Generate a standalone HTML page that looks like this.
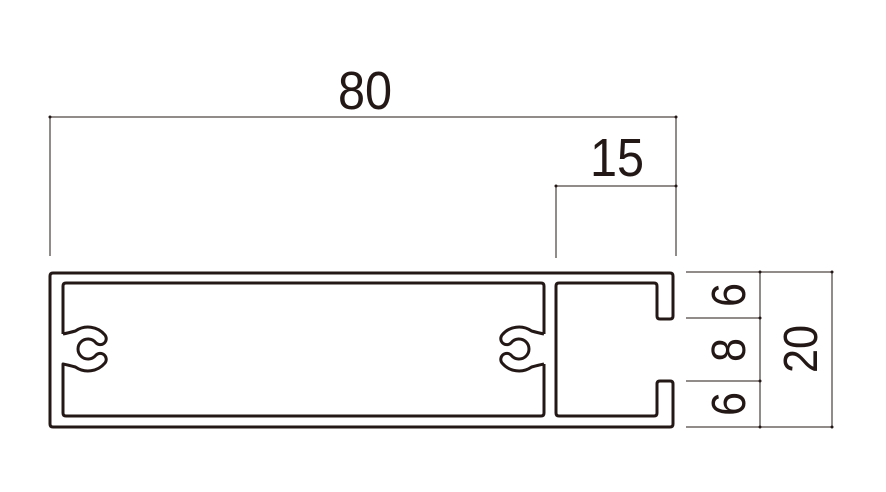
<!DOCTYPE html>
<html><head><style>body{margin:0;background:#fff}svg{display:block}text{font-family:"Liberation Sans",sans-serif;fill:#231815}</style></head>
<body>
<svg width="886" height="492" viewBox="0 0 886 492">
<g stroke="#231815" fill="none" stroke-width="1">
<line x1="50" y1="117" x2="676" y2="117"/>
<line x1="50" y1="117" x2="50" y2="256"/>
<line x1="676" y1="117" x2="676" y2="256"/>
<line x1="556" y1="186" x2="676" y2="186"/>
<line x1="556" y1="186" x2="556" y2="258"/>
<line x1="686" y1="272" x2="832" y2="272"/>
<line x1="686" y1="318" x2="760" y2="318"/>
<line x1="686" y1="381" x2="760" y2="381"/>
<line x1="686" y1="427" x2="832" y2="427"/>
<line x1="760" y1="272" x2="760" y2="427"/>
<line x1="832" y1="272" x2="832" y2="427"/>
</g>
<g fill="#231815">
<circle cx="50" cy="117" r="1.5"/><circle cx="676" cy="117" r="1.5"/><circle cx="676" cy="186" r="1.5"/><circle cx="556" cy="186" r="1.5"/>
<circle cx="760" cy="272" r="1.5"/><circle cx="832" cy="272" r="1.5"/><circle cx="760" cy="427" r="1.5"/><circle cx="832" cy="427" r="1.5"/><circle cx="760" cy="318" r="1.5"/><circle cx="760" cy="381" r="1.5"/>
</g>
<g stroke="#231815" fill="none" stroke-width="3" stroke-linejoin="round">
<path d="M53,273 H670 Q673,273 673,276 V316 Q673,319 670,319 H660 Q657,319 657,316 V286 Q657,283 654,283 H559 Q556,283 556,286 V413 Q556,416 559,416 H654 Q657,416 657,413 V384 Q657,381 660,381 H670 Q673,381 673,384 V424 Q673,427 670,427 H53 Q50,427 50,424 V276 Q50,273 53,273 Z"/>
<path d="M63,334 V286 Q63,283 66,283 H541 Q544,283 544,286 V334"/>
<path d="M63,334 Q68,333 75.4,331 A22,22 0 0 1 104.9,334.9 A6,6 0 0 1 95.7,342.6 A10,10 0 1 0 95.7,355.4 A6,6 0 0 1 104.9,363.1 A22,22 0 0 1 75.4,367 Q68,365 63,364 V413 Q63,416 66,416 H541 Q544,416 544,413 V364"/>
<path transform="translate(607,0) scale(-1,1)" d="M63,334 Q68,333 75.4,331 A22,22 0 0 1 104.9,334.9 A6,6 0 0 1 95.7,342.6 A10,10 0 1 0 95.7,355.4 A6,6 0 0 1 104.9,363.1 A22,22 0 0 1 75.4,367 Q68,365 63,364"/>
</g>
<text transform="translate(365,109) scale(0.9,1)" font-size="54" text-anchor="middle">80</text>
<text transform="translate(617,176) scale(0.9,1)" font-size="54" text-anchor="middle">15</text>
<text transform="translate(745,295) rotate(-90) scale(0.9,1)" font-size="48" text-anchor="middle">6</text>
<text transform="translate(745,350) rotate(-90) scale(0.9,1)" font-size="48" text-anchor="middle">8</text>
<text transform="translate(745,404) rotate(-90) scale(0.9,1)" font-size="48" text-anchor="middle">6</text>
<text transform="translate(817,349) rotate(-90) scale(0.9,1)" font-size="48" text-anchor="middle">20</text>
</svg>
</body></html>
